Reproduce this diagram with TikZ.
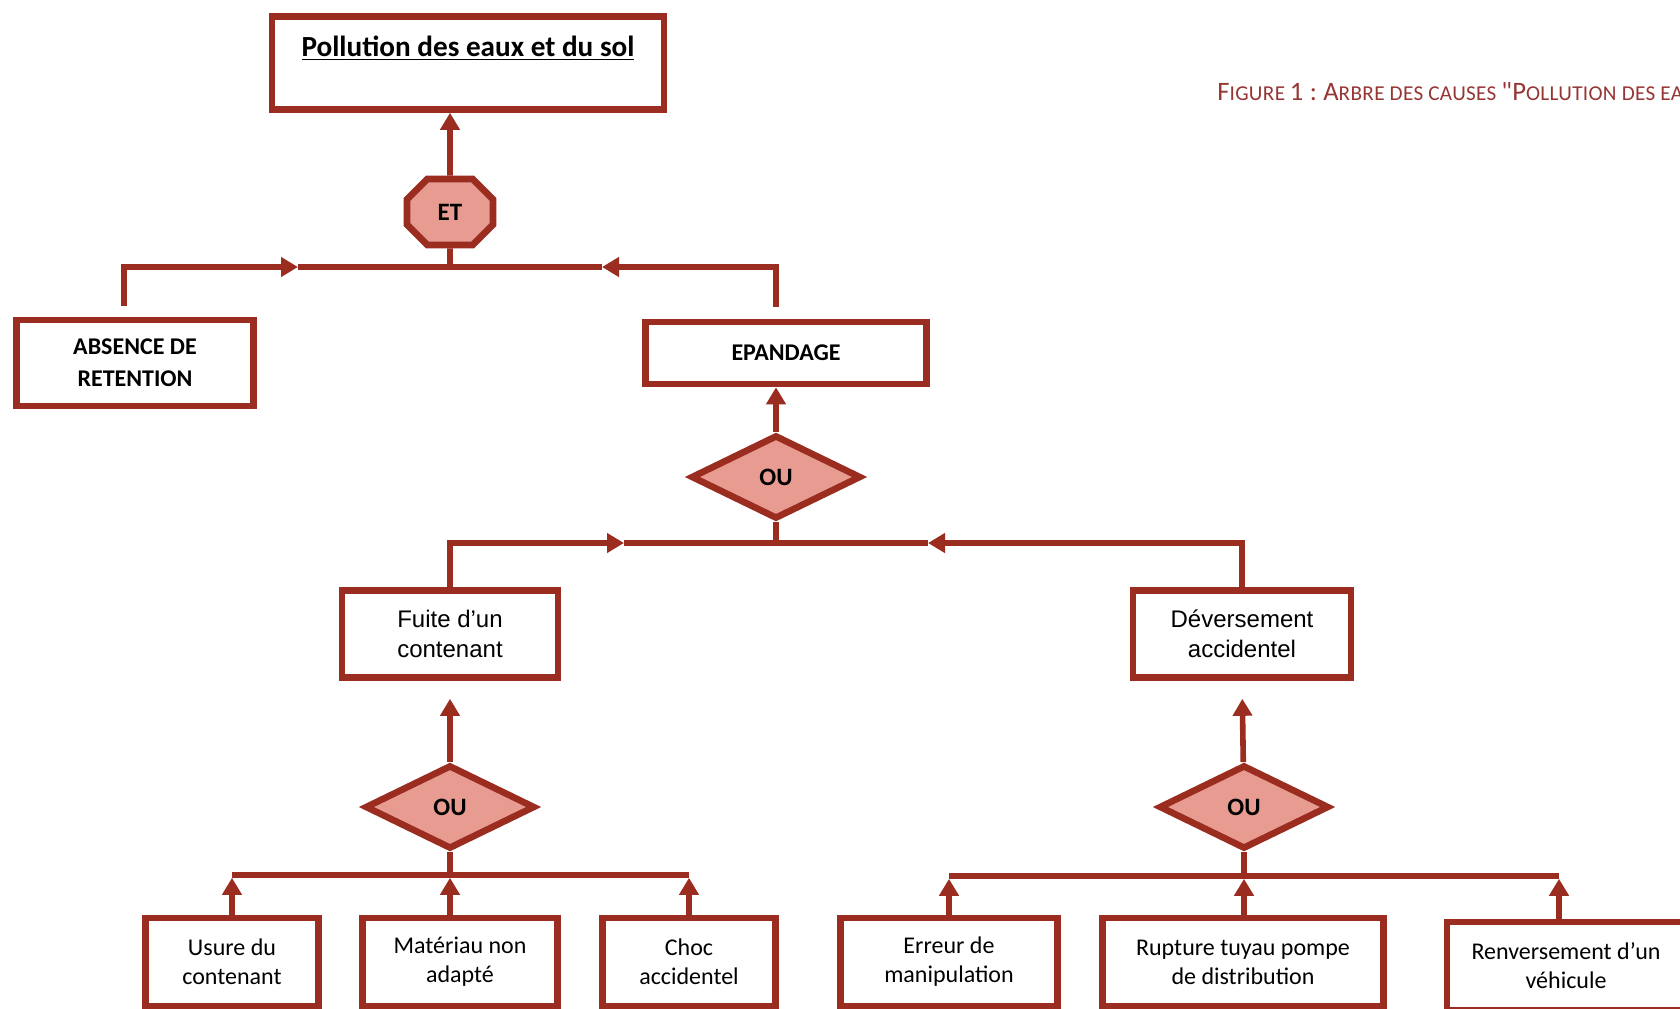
\documentclass[tikz,border=0pt]{standalone}
\usepackage{fontspec}
\setmainfont{Carlito}
\newfontfamily\arialfont{Liberation Sans}
\newfontfamily\legendefont{Carlito}[Ligatures=TeXOff,LetterSpace=1.5]
\usetikzlibrary{arrows.meta,shapes.geometric,shapes.misc}
\definecolor{brique}{RGB}{155,45,32}
\definecolor{saumon}{RGB}{232,155,145}
\definecolor{legende}{RGB}{150,54,52}
\newcommand\petitecap[2]{{\fontsize{13.3}{15}\selectfont #1}{\fontsize{10.6}{12}\selectfont #2}}

\begin{document}
\begin{tikzpicture}[
          x=0.5pt, y=-0.5pt,
          box/.style={
            draw=brique,
            line width=3.3pt,
            rectangle,
            fill=white,
            align=center,
            inner sep=0pt,
            minimum height=44pt,
          },
          gate/.style={
            draw=brique,
            line width=3.3pt,
            fill=saumon,
            inner sep=0pt,
            font=\fontsize{12.5}{15}\selectfont\bfseries,
          },
          ougate/.style={gate, diamond, minimum width=85pt, minimum height=42pt},
          etgate/.style={gate, chamfered rectangle, chamfered rectangle xsep=9pt,
            chamfered rectangle ysep=9pt, minimum width=43pt, minimum height=33pt},
          boldtxt/.style={font=\fontsize{12}{16}\selectfont\bfseries},
          plaintxt/.style={font=\fontsize{12}{14.5}\selectfont},
          arialtxt/.style={font=\arialfont\fontsize{12}{15}\selectfont},
          link/.style={color=brique, line width=2.8pt},
          >={Triangle[length=8.5pt,width=9.5pt]},
        ]
        \useasboundingbox (0,0) rectangle (1680,1008);
        \clip (0,0) rectangle (1680,1008);
        \fill[white] (0,0) rectangle (1680,1008);
        \node[box, minimum width=196pt, minimum height=46.5pt,
          font=\fontsize{14.6}{17}\selectfont\bfseries] (top) at (468,63)
          {\underline{Pollution des eaux et du sol}\\ ~};
        \node[anchor=west, text=legende, inner sep=0pt, font=\legendefont] (fig) at (1217,92)
          {\petitecap{F}{IGURE} \petitecap{1 :}{} \petitecap{A}{RBRE DES CAUSES} \petitecap{"P}{OLLUTION DES EAUX ET DU SOL"}};
        \node[etgate] (et) at (450,212) {ET};
        \node[box, boldtxt, minimum width=118.5pt, minimum height=43pt] (abs) at (135,363) {ABSENCE DE\\RETENTION};
        \node[box, boldtxt, minimum width=140.5pt, minimum height=31pt] (epa) at (786,353) {EPANDAGE};
        \node[ougate] (ou1) at (776,477) {OU};
        \node[box, arialtxt, minimum width=108pt, minimum height=43.5pt] (fuite) at (450,634) {Fuite d’un\\contenant};
        \node[box, arialtxt, minimum width=109pt, minimum height=43.5pt] (dev) at (1242,634) {Déversement\\accidentel};
        \node[ougate] (ou2) at (450,807) {OU};
        \node[ougate] (ou3) at (1244,807) {OU};
        % causes de base
        \node[box, plaintxt, minimum width=86.5pt] (usure) at (232,962) {Usure du\\contenant};
        \node[box, plaintxt, minimum width=97.5pt] (mat) at (460,962) {Matériau non\\adapté};
        \node[box, plaintxt, minimum width=86.5pt] (choc) at (689,962) {Choc\\accidentel};
        \node[box, plaintxt, minimum width=108.5pt] (err) at (949,962) {Erreur de\\manipulation};
        \node[box, plaintxt, minimum width=140.5pt] (rupt) at (1243,962) {Rupture tuyau pompe\\de distribution};
        \node[box, plaintxt, minimum width=119pt] (renv) at (1566,966) {Renversement d’un\\véhicule};
        % barres
        \coordinate (b1l) at (298,267);
        \coordinate (b1r) at (602,267);
        \coordinate (b2l) at (624,543);
        \coordinate (b2r) at (928,543);
        \coordinate (b3l) at (232,875);
        \coordinate (b3r) at (689,875);
        \coordinate (b4l) at (949,876);
        \coordinate (b4r) at (1559,876);
        % ET
        \draw[link,->] (et) -- (et |- top.south);
        \draw[link] (et) -- (et |- b1l);
        \draw[link] (b1l) -- (b1r);
        \draw[link,->,shorten <=5.25pt] ([xshift=-5.5pt]abs.north) |- (b1l);
        \draw[link,->,shorten <=6pt] ([xshift=-5pt]epa.north) |- (b1r);
        % OU epandage
        \draw[link,->] (ou1) -- (epa.south -| ou1);
        \draw[link] (ou1) -- (ou1 |- b2l);
        \draw[link] (b2l) -- (b2r);
        \draw[link,->] (fuite.north) |- (b2l);
        \draw[link,->] (dev.north) |- (b2r);
        % OU fuite
        \draw[link,->,shorten >=9pt] (ou2) -- (fuite.south);
        \draw[link] (ou2) -- (ou2 |- b3l);
        \draw[link] (b3l) -- (b3r);
        \draw[link,->,shorten >=1.4pt] (usure.north) -- (b3l);
        \draw[link,->,shorten >=1.4pt] (ou2 |- mat.north) -- (ou2 |- b3l);
        \draw[link,->,shorten >=1.4pt] (choc.north) -- (b3r);
        % OU deversement
        \draw[link,->,shorten >=9pt] (ou3) -- (dev.south);
        \draw[link] (ou3) -- (ou3 |- b4l);
        \draw[link] (b4l) -- (b4r);
        \draw[link,->,shorten >=1.4pt] (err.north) -- (b4l);
        \draw[link,->,shorten >=1.4pt] (ou3 |- rupt.north) -- (ou3 |- b4l);
        \draw[link,->,shorten >=1.4pt] (b4r |- renv.north) -- (b4r);
\end{tikzpicture}
\end{document}
